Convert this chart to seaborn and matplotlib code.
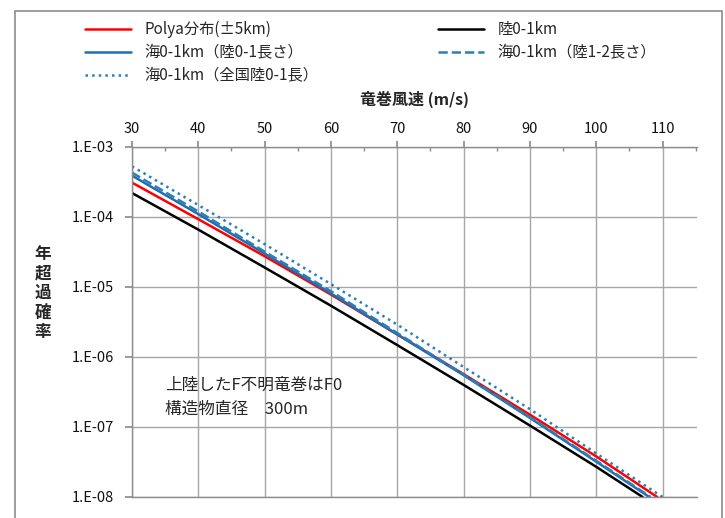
import numpy as np
import pandas as pd
import matplotlib
matplotlib.use('Agg')
import matplotlib.pyplot as plt
from matplotlib.ticker import FixedLocator, FuncFormatter, MultipleLocator
from matplotlib.patches import Rectangle
import seaborn as sns

sns.set_theme(style='white')
plt.rcParams['font.family'] = ['Noto Sans CJK JP', 'DejaVu Sans']
plt.rcParams['axes.unicode_minus'] = False

# 竜巻風速 (m/s) と年超過確率
speed = [30, 40, 50, 60, 70, 80, 90, 100]

polya_x = speed + [109.2]
polya_y = [3.1e-4, 9.3e-5, 2.75e-5, 7.8e-6, 2.1e-6, 5.7e-7, 1.5e-7, 3.8e-8, 1.0e-8]

land_x = speed + [107.0]
land_y = [2.2e-4, 6.6e-5, 1.9e-5, 5.4e-6, 1.48e-6, 4.0e-7, 1.05e-7, 2.7e-8, 1.0e-8]

sea01_x = speed + [108.0]
sea01_y = [3.9e-4, 1.1e-4, 3.0e-5, 8.1e-6, 2.1e-6, 5.5e-7, 1.35e-7, 3.2e-8, 1.0e-8]

sea12_x = speed + [108.2]
sea12_y = [4.3e-4, 1.2e-4, 3.2e-5, 8.7e-6, 2.2e-6, 5.6e-7, 1.38e-7, 3.3e-8, 1.0e-8]

seaall_x = speed + [110.0]
seaall_y = [5.3e-4, 1.48e-4, 4.1e-5, 1.1e-5, 2.9e-6, 7.2e-7, 1.8e-7, 4.2e-8, 1.0e-8]

y_ticks = [1e-3, 1e-4, 1e-5, 1e-6, 1e-7, 1e-8]

series = [
    # label, x, y, color, linestyle, legend column
    ('Polya分布(±5km)', polya_x, polya_y, '#FF0000', '-', 0),
    ('海0-1km（陸0-1長さ）', sea01_x, sea01_y, '#1F6FB0', '-', 0),
    ('海0-1km（全国陸0-1長）', seaall_x, seaall_y, '#2A7FB8', ':', 0),
    ('陸0-1km', land_x, land_y, '#000000', '-', 1),
    ('海0-1km（陸1-2長さ）', sea12_x, sea12_y, '#2A7FB8', '--', 1),
]

fig = plt.figure(figsize=(7.25, 5.18), dpi=100)
ax = fig.add_axes([132 / 725, 1 - 497 / 518, (697 - 132) / 725, (497 - 147) / 518])

handles = [[], []]
labels = [[], []]
for label, xs, ys, color, ls, col in series:
    df = pd.DataFrame({'x': xs, 'y': ys})
    sns.lineplot(data=df, x='x', y='y', ax=ax, color=color, linestyle=ls,
                 linewidth=1.8, estimator=None, sort=False)
    handles[col].append(ax.lines[-1])
    labels[col].append(label)

ax.set_yscale('log')
ax.set_xlim(30, 115.2)
ax.set_ylim(1e-8, 1e-3)

ax.xaxis.tick_top()
ax.xaxis.set_label_position('top')
ax.xaxis.set_minor_locator(MultipleLocator(5))
ax.set_xticks([30, 40, 50, 60, 70, 80, 90, 100, 110])
ax.yaxis.set_major_locator(FixedLocator(y_ticks))
ax.yaxis.set_minor_locator(FixedLocator([]))
ax.yaxis.set_major_formatter(FuncFormatter(lambda v, p: '1.E-%02d' % round(-np.log10(v))))

ax.tick_params(axis='x', which='major', direction='out', length=4, color='#8C8C8C',
               labelsize=10.5, pad=4, labelcolor='#111111')
ax.tick_params(axis='x', which='minor', direction='in', length=3, color='#8C8C8C', top=True)
ax.tick_params(axis='y', which='major', direction='out', length=5, color='#8C8C8C',
               labelsize=10.5, pad=8, labelcolor='#111111', left=True)

ax.grid(True, which='major', color='#A6A6A6', linewidth=1.0)
ax.spines['right'].set_visible(False)
for name in ['left', 'top', 'bottom']:
    ax.spines[name].set_color('#8C8C8C')
    ax.spines[name].set_linewidth(1.0)

ax.set_xlabel('竜巻風速 (m/s)', fontsize=11.5, fontweight='bold', labelpad=12)
ax.set_ylabel('')

fig.text(43 / 725, 1 - 293 / 518, '年\n超\n過\n確\n率', fontsize=12, fontweight='bold',
         ha='center', va='center', linespacing=1.12)

ax.text(165 / 725, 1 - 385 / 518, '上陸したF不明竜巻はF0', transform=fig.transFigure,
        fontsize=12, va='center', ha='left')
ax.text(165 / 725, 1 - 409 / 518, '構造物直径　300m', transform=fig.transFigure,
        fontsize=12, va='center', ha='left')

leg_kw = dict(frameon=False, fontsize=11, handlelength=3.0, handletextpad=0.9,
              labelspacing=0.4, borderpad=0, borderaxespad=0, loc='upper left')
fig.legend(handles[0], labels[0], bbox_to_anchor=(85 / 725, 1 - 21 / 518), **leg_kw)
fig.legend(handles[1], labels[1], bbox_to_anchor=(438 / 725, 1 - 21 / 518), **leg_kw)

# 図の外枠
fig.patches.append(Rectangle((15 / 725, -0.05), (722 - 15) / 725, 1.05 - 11 / 518,
                             transform=fig.transFigure, fill=False,
                             edgecolor='#8C8C8C', linewidth=1.2))

fig.savefig('out.png', dpi=100)
